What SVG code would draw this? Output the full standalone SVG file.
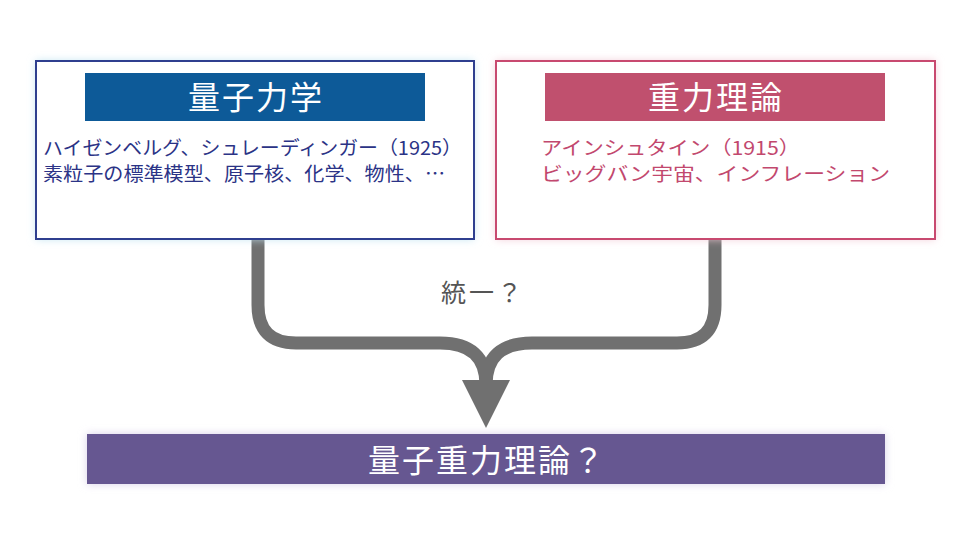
<svg xmlns="http://www.w3.org/2000/svg" width="961" height="541" viewBox="0 0 961 541">
<style>
text{font-family:"Noto Sans CJK JP","Noto Sans",sans-serif}
.t{fill:#fff;font-size:32px;text-anchor:middle;letter-spacing:2px}
.l{fill:#2b3386;font-size:19px}
.r{fill:#c2486e;font-size:19px}
</style>
<defs>
<filter id="g" x="-10%" y="-20%" width="120%" height="140%"><feGaussianBlur stdDeviation="4"/></filter>
</defs>
<rect width="961" height="541" fill="#fff"/>
<g id="connectors">
<path d="M258,239 V305 Q258,343 296,343 H440 Q486,343 486,385 M715,239 V305 Q715,343 677,343 H532 Q486,343 486,385" fill="none" stroke="#707070" stroke-width="13"/>
<polygon points="462,380 510,380 486,428" fill="#707070"/>
<text x="483" y="302" font-size="25" fill="#555" text-anchor="middle" letter-spacing="3">統一？</text>
</g>
<g id="qm">
<rect x="36" y="61" width="438" height="178" fill="#bfe3f2" filter="url(#g)"/>
<rect x="36" y="61" width="438" height="178" fill="#fff" stroke="#2f3f8f" stroke-width="2"/>
<rect x="85" y="73" width="340" height="48" fill="#0d5a98"/>
<text class="t" x="256" y="109">量子力学</text>
<text class="l" x="43" y="155" textLength="419" lengthAdjust="spacingAndGlyphs">ハイゼンベルグ、シュレーディンガー（1925）</text>
<text class="l" x="43" y="181" textLength="402" lengthAdjust="spacingAndGlyphs">素粒子の標準模型、原子核、化学、物性、…</text>
</g>
<g id="gr">
<rect x="496" y="61" width="439" height="178" fill="#f2c8d4" filter="url(#g)"/>
<rect x="496" y="61" width="439" height="178" fill="#fff" stroke="#c84a70" stroke-width="2"/>
<rect x="545" y="73" width="340" height="48" fill="#c0506e"/>
<text class="t" x="716" y="109">重力理論</text>
<text class="r" x="541" y="155" textLength="259" lengthAdjust="spacingAndGlyphs">アインシュタイン（1915）</text>
<text class="r" x="541" y="181" textLength="349" lengthAdjust="spacingAndGlyphs">ビッグバン宇宙、インフレーション</text>
</g>
<g id="qg">
<rect x="87" y="434" width="798" height="50" fill="#d8d0e8" filter="url(#g)"/>
<rect x="87" y="434" width="798" height="50" fill="#665791"/>
<text class="t" x="487" y="472" letter-spacing="4">量子重力理論？</text>
</g>
</svg>
